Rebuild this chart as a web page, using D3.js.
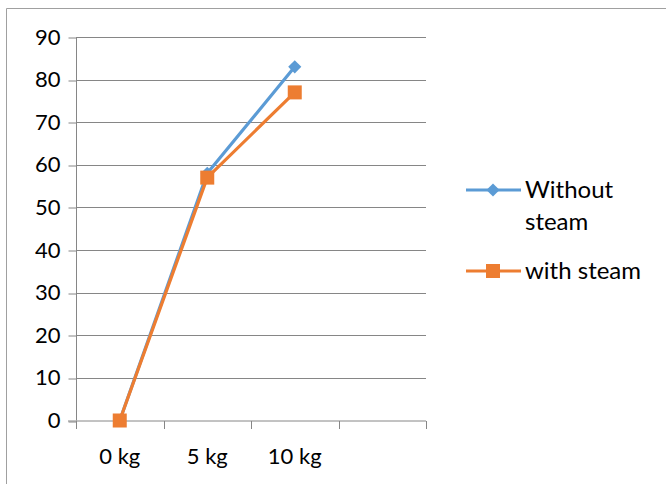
<!DOCTYPE html>
<html>
<head>
<meta charset="utf-8">
<script src="https://cdn.jsdelivr.net/npm/d3@7"></script>
<style>
  html, body { margin: 0; padding: 0; background: #fff; }
  svg text { font-family: Lato, "Open Sans", sans-serif; fill: #000; }
</style>
</head>
<body>
<svg id="chart" width="666" height="484"></svg>
<script>
// Category slots on the x axis (the last slot is left empty)
const categories = ["0 kg", "5 kg", "10 kg", ""];
const withoutSteam = [0, 58, 83];
const withSteam = [0, 57, 77];
const yTicks = [0, 10, 20, 30, 40, 50, 60, 70, 80, 90];
const seriesNames = ["Without steam", "with steam"];

const svg = d3.select("#chart");
const gridColor = "#868686";
const blue = "#5B9BD5";
const orange = "#ED7D31";
const font = "Lato, 'Open Sans', sans-serif";

// chart frame (top and left edges)
svg.append("line").attr("x1", 6.5).attr("x2", 666).attr("y1", 8.5).attr("y2", 8.5)
  .attr("stroke", "#a0a0a0").attr("stroke-width", 1);
svg.append("line").attr("x1", 6.5).attr("x2", 6.5).attr("y1", 8.5).attr("y2", 484)
  .attr("stroke", "#a0a0a0").attr("stroke-width", 1);

const plot = { left: 76, right: 426, top: 37, bottom: 420.5 };

const x = d3.scaleBand().domain(categories.map((c, i) => i))
  .range([plot.left, plot.right]).paddingInner(0).paddingOuter(0);
const y = d3.scaleLinear().domain([0, 90]).range([plot.bottom, plot.top]);

// horizontal gridlines
svg.append("g").selectAll("line").data(yTicks.filter(t => t > 0)).join("line")
  .attr("x1", plot.left).attr("x2", plot.right)
  .attr("y1", d => Math.round(y(d)) + 0.5).attr("y2", d => Math.round(y(d)) + 0.5)
  .attr("stroke", gridColor).attr("stroke-width", 1);

// y axis
const yAxis = d3.axisLeft(y).tickValues(yTicks).tickSize(8).tickPadding(8);
const gy = svg.append("g").attr("transform", `translate(${plot.left + 0.5},0)`).call(yAxis);
gy.select(".domain").attr("stroke", gridColor).attr("d", `M0,${plot.top}V${plot.bottom}`);
gy.selectAll(".tick line").attr("stroke", gridColor)
  .attr("transform", d => `translate(0,${Math.round(y(d)) + 0.5 - y(d)})`);
gy.selectAll(".tick text").attr("font-size", 22).attr("font-family", font)
  .attr("fill", "#000");

// x axis with ticks at slot boundaries
const gx = svg.append("g").attr("transform", `translate(0,${plot.bottom + 0.5})`);
gx.append("line").attr("x1", plot.left - 8).attr("x2", plot.right).attr("y1", 0).attr("y2", 0)
  .attr("stroke", gridColor);
const bounds = d3.range(categories.length + 1).map(i =>
  i < categories.length ? x(i) : x(categories.length - 1) + x.bandwidth());
gx.selectAll("line.tk").data(bounds).join("line").attr("class", "tk")
  .attr("x1", d => Math.round(d) + 0.5).attr("x2", d => Math.round(d) + 0.5)
  .attr("y1", 0).attr("y2", 8).attr("stroke", gridColor);
gx.selectAll("text").data(categories).join("text")
  .attr("x", (d, i) => x(i) + x.bandwidth() / 2)
  .attr("y", 43).attr("text-anchor", "middle").attr("font-size", 22)
  .text(d => d);

const line = d3.line().x((d, i) => x(i) + x.bandwidth() / 2).y(d => y(d));

// series lines
svg.append("path").datum(withoutSteam).attr("d", line)
  .attr("fill", "none").attr("stroke", blue).attr("stroke-width", 3.2).attr("stroke-linejoin", "round");
svg.append("path").datum(withSteam).attr("d", line)
  .attr("fill", "none").attr("stroke", orange).attr("stroke-width", 3.2).attr("stroke-linejoin", "round");

// markers
const diamond = d3.symbol().type(d3.symbolDiamond2).size(110);
svg.append("g").selectAll("path").data(withoutSteam).join("path")
  .attr("d", diamond)
  .attr("transform", (d, i) => `translate(${x(i) + x.bandwidth() / 2},${y(d)})`)
  .attr("fill", blue);
svg.append("g").selectAll("rect").data(withSteam).join("rect")
  .attr("x", (d, i) => x(i) + x.bandwidth() / 2 - 7)
  .attr("y", d => y(d) - 7).attr("width", 14).attr("height", 14)
  .attr("fill", orange);

// legend
const lg = svg.append("g");
lg.append("line").attr("x1", 466).attr("x2", 521).attr("y1", 190).attr("y2", 190)
  .attr("stroke", blue).attr("stroke-width", 3.2);
lg.append("path").attr("d", diamond).attr("transform", "translate(493,190)").attr("fill", blue);
lg.append("text").attr("x", 525).attr("y", 198).attr("font-size", 24).text("Without");
lg.append("text").attr("x", 525).attr("y", 230).attr("font-size", 24).text("steam");

lg.append("line").attr("x1", 466).attr("x2", 521).attr("y1", 271).attr("y2", 271)
  .attr("stroke", orange).attr("stroke-width", 3.2);
lg.append("rect").attr("x", 486).attr("y", 264).attr("width", 14).attr("height", 14).attr("fill", orange);
lg.append("text").attr("x", 525).attr("y", 279).attr("font-size", 24).text(seriesNames[1]);
</script>
</body>
</html>
